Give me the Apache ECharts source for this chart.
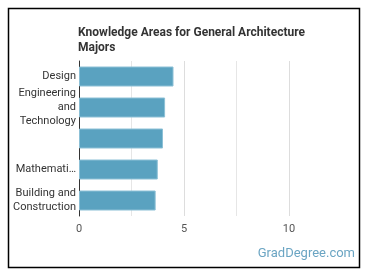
<!DOCTYPE html>
<html>
<head>
<meta charset="utf-8">
<script src="https://cdn.jsdelivr.net/npm/echarts@6/dist/echarts.min.js"></script>
<style>
  html, body { margin: 0; padding: 0; background: #fff; }
  #chart { width: 370px; height: 278px; }
</style>
</head>
<body>
<div id="chart"></div>
<script>
// data
const categories = ['Design', 'Engineering\nand\nTechnology', '', 'Mathemati\u2026', 'Building and\nConstruction'];
const values = [4.5, 4.1, 4.0, 3.75, 3.65];
const tickLabels = ['0', '5', '10'];

let myChart = echarts.init(document.getElementById('chart'));

let option = {
  animation: false,
  graphic: [
    {
      type: 'rect',
      shape: { x: 8.5, y: 8.5, width: 351, height: 259 },
      style: { fill: 'none', stroke: '#000', lineWidth: 1.5 }
    },
    {
      type: 'text',
      right: 15,
      top: 247,
      style: { text: 'GradDegree.com', fill: '#6ba5c3', font: '13px Roboto' }
    }
  ],
  title: {
    text: 'Knowledge Areas for General Architecture\nMajors',
    left: 73,
    top: 20,
    textStyle: { fontFamily: 'Roboto', fontSize: 12, fontWeight: 'bold', color: '#333', lineHeight: 15 }
  },
  grid: { left: 79, top: 61, width: 262.5, height: 155 },
  xAxis: {
    type: 'value',
    min: 0,
    max: 12.5,
    interval: 2.5,
    axisLine: { show: false },
    axisTick: { show: false },
    axisLabel: {
      fontFamily: 'Roboto',
      fontSize: 11,
      color: '#555',
      margin: 8,
      formatter: v => (tickLabels.indexOf(String(v)) >= 0 ? String(v) : '')
    },
    splitLine: {
      lineStyle: { color: ['#ddd', '#e6e6e6', '#ddd', '#e6e6e6', '#ddd', 'rgba(0,0,0,0)'], width: 1 }
    }
  },
  yAxis: {
    type: 'category',
    data: categories,
    inverse: true,
    axisLine: { show: true, lineStyle: { color: '#333', width: 1 } },
    axisTick: { show: false },
    axisLabel: {
      fontFamily: 'Roboto',
      fontSize: 11,
      color: '#333',
      lineHeight: 14,
      margin: 3,
      align: 'right'
    }
  },
  series: [
    {
      type: 'bar',
      data: values,
      barWidth: 20,
      itemStyle: { color: '#5aa2c0', borderColor: '#8cc0d6', borderWidth: 1 }
    }
  ]
};

myChart.setOption(option);
</script>
</body>
</html>
